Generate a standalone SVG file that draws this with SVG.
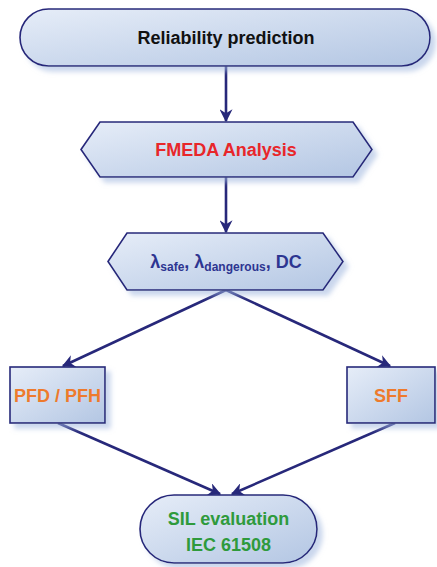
<svg xmlns="http://www.w3.org/2000/svg" width="437" height="567" viewBox="0 0 437 567">
  <defs>
    <linearGradient id="boxFill" x1="0" y1="0" x2="1" y2="1">
      <stop offset="0" stop-color="#e6edf8"/>
      <stop offset="1" stop-color="#b3c6e3"/>
    </linearGradient>
    <filter id="soft" x="-10%" y="-20%" width="125%" height="150%">
      <feGaussianBlur in="SourceAlpha" stdDeviation="2.5"/>
      <feOffset dx="5" dy="5" result="b"/>
      <feFlood flood-color="#9fb6de" flood-opacity="0.55"/>
      <feComposite in2="b" operator="in"/>
      <feMerge>
        <feMergeNode/>
        <feMergeNode in="SourceGraphic"/>
      </feMerge>
    </filter>
    <marker id="arrow" viewBox="0 0 10 10" refX="9" refY="5" markerWidth="5" markerHeight="5" orient="auto-start-reverse" markerUnits="strokeWidth">
      <path d="M0,0 L10,5 L0,10 L3,5 z" fill="#27287a"/>
    </marker>
  </defs>
  <style>
    .shape { fill: url(#boxFill); stroke: #27287a; stroke-width: 1.6; filter: url(#soft); }
    .label { font-family: "Liberation Sans", Arial, sans-serif; font-weight: bold; font-size: 18px; text-anchor: middle; }
    .edge { fill: none; stroke: #27287a; stroke-width: 2.6; marker-end: url(#arrow); }
  </style>

  <rect width="437" height="567" fill="#ffffff"/>

  <g id="connectors">
    <line class="edge" x1="226" y1="66" x2="226" y2="121"/>
    <line class="edge" x1="226" y1="177" x2="226" y2="232"/>
    <line class="edge" x1="226" y1="290" x2="63" y2="366"/>
    <line class="edge" x1="226" y1="290" x2="390" y2="366"/>
    <line class="edge" x1="58" y1="423" x2="220" y2="494"/>
    <line class="edge" x1="395" y1="423" x2="232" y2="494"/>
  </g>

  <g id="reliability-prediction">
    <rect class="shape" x="20" y="9" width="410" height="57" rx="28.5" ry="28.5"/>
    <text class="label" x="226" y="44" fill="#111111" font-size="18.5">Reliability prediction</text>
  </g>

  <g id="fmeda-analysis">
    <polygon class="shape" points="81,149.5 100,122 353,122 372,149.5 353,177 100,177"/>
    <text class="label" x="226" y="156" fill="#e8262a">FMEDA Analysis</text>
  </g>

  <g id="failure-rates">
    <polygon class="shape" points="108,261.5 127,233 323,233 343,261.5 323,290 127,290"/>
    <text class="label" x="226" y="268" fill="#2d3591">λ<tspan font-size="12" dy="3">safe</tspan><tspan dy="-3">, λ</tspan><tspan font-size="12" dy="3">dangerous</tspan><tspan dy="-3">, DC</tspan></text>
  </g>

  <g id="pfd-pfh">
    <rect class="shape" x="10" y="367" width="95" height="56"/>
    <text class="label" x="57.5" y="401.5" fill="#ee7a2c">PFD / PFH</text>
  </g>

  <g id="sff">
    <rect class="shape" x="347" y="367" width="88" height="56"/>
    <text class="label" x="391" y="401.5" fill="#ee7a2c">SFF</text>
  </g>

  <g id="sil-evaluation">
    <rect class="shape" x="140" y="495" width="177" height="68" rx="34" ry="34"/>
    <text class="label" x="228.5" y="525" fill="#2e9a3c">SIL evaluation</text>
    <text class="label" x="228.5" y="551" fill="#2e9a3c">IEC 61508</text>
  </g>
</svg>
